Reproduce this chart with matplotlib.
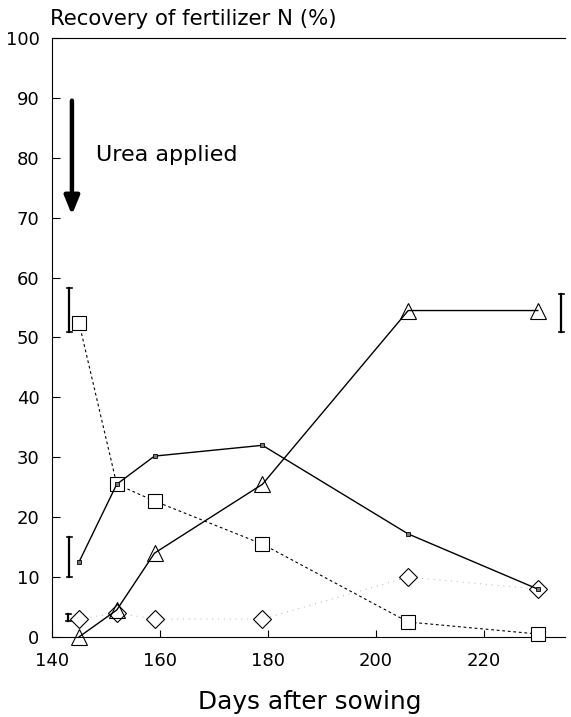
import matplotlib
matplotlib.use("Agg")
import matplotlib.pyplot as plt

plt.rcParams['font.family'] = ['DejaVu Sans']

days = [145, 152, 159, 179, 206, 230]
urea_soil = [52.5, 25.5, 22.7, 15.5, 2.5, 0.5]      # open squares, dashed
plant_a = [12.5, 25.5, 30.2, 32.0, 17.2, 8.0]       # small squares, solid
plant_b = [0.0, 4.5, 14.0, 25.5, 54.5, 54.5]        # triangles, solid
other = [3.0, 4.0, 3.0, 3.0, 10.0, 8.0]             # diamonds, faint dotted

# error bars (x, low, high)
err_x = [143.2, 143.2, 143.0, 234.4]
err_lo = [51.0, 10.0, 2.6, 51.0]
err_hi = [58.3, 16.7, 3.8, 57.2]

x_ticks = [140, 160, 180, 200, 220]
y_ticks = list(range(0, 101, 10))

fig = plt.figure(figsize=(5.71, 7.17), dpi=100)
ax = fig.add_axes([0.091, 0.1116, 0.898, 0.8354])

ax.plot(days, other, color='#b0b0b0', linestyle=(0, (1, 5)), linewidth=0.7,
        marker='D', markersize=9, markerfacecolor='white', markeredgecolor='black',
        markeredgewidth=0.8, zorder=2, clip_on=False)
ax.plot(days, urea_soil, color='black', linestyle=(0, (2.5, 2.5)), linewidth=0.8,
        marker='s', markersize=10, markerfacecolor='white', markeredgecolor='black',
        markeredgewidth=0.8, zorder=3, clip_on=False)
ax.plot(days, plant_b, color='black', linestyle='-', linewidth=1.0,
        marker='^', markersize=12, markerfacecolor='none', markeredgecolor='black',
        markeredgewidth=0.8, zorder=4, clip_on=False)
ax.plot(days, plant_a, color='black', linestyle='-', linewidth=1.0,
        marker='s', markersize=3.5, markerfacecolor='#777777', markeredgecolor='black',
        markeredgewidth=0.6, zorder=5, clip_on=False)

for x, lo, hi in zip(err_x, err_lo, err_hi):
    ax.plot([x, x], [lo, hi], color='black', linewidth=1.6, zorder=5, clip_on=False)
    ax.plot([x - 0.45, x + 0.45], [lo, lo], color='black', linewidth=1.2, zorder=5, clip_on=False)
    ax.plot([x - 0.45, x + 0.45], [hi, hi], color='black', linewidth=1.2, zorder=5, clip_on=False)

ax.annotate('', xy=(143.7, 70), xytext=(143.7, 90),
            arrowprops=dict(arrowstyle='-|>,head_width=0.45,head_length=1.1',
                            color='black', linewidth=3.2))
ax.text(148.2, 80.5, 'Urea applied', fontsize=16, ha='left', va='center')

ax.set_xlim(140, 235)
ax.set_ylim(0, 100)
ax.set_xticks(x_ticks)
ax.set_yticks(y_ticks)
ax.tick_params(axis='both', direction='in', labelsize=13, width=0.8)
ax.tick_params(axis='y', length=6, pad=9)
ax.tick_params(axis='x', length=5, pad=11)
ax.spines['right'].set_visible(False)
for s in ['left', 'top', 'bottom']:
    ax.spines[s].set_linewidth(0.8)

fig.text(0.087, 0.974, 'Recovery of fertilizer N (%)', fontsize=15.3, ha='left', va='center')
fig.text(0.542, 0.021, 'Days after sowing', fontsize=17.8, ha='center', va='center')

fig.savefig('out.png', dpi=100)
